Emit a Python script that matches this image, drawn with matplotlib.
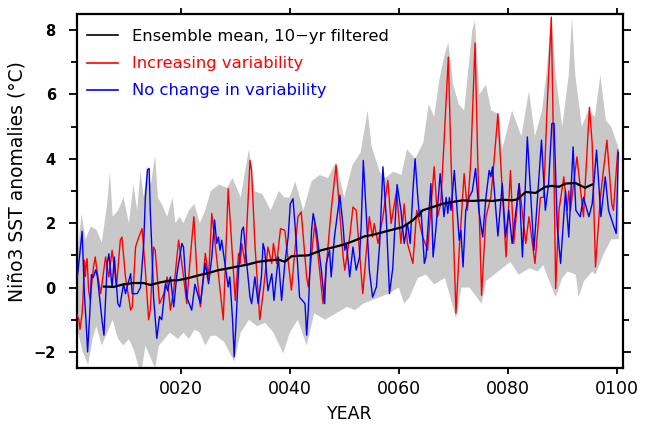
import matplotlib
matplotlib.use("Agg")
import matplotlib.pyplot as plt
from matplotlib.ticker import MultipleLocator, FixedLocator
import numpy as np

# Nino3 SST anomalies (turning points)
red_year = [1.0, 1.3, 1.5, 1.9, 2.1, 2.3, 2.5, 2.6, 2.8, 3.1, 3.4, 3.7, 4.0, 4.3, 4.7, 5.3,
            6.2, 6.8, 7.4, 8.2, 8.9, 9.2, 9.85, 10.8, 11.1, 11.7, 12.3, 12.9, 13.5, 14.1,
            14.4, 15.0, 15.3, 16.1, 16.9, 17.5, 18.1, 18.7, 19.6, 20.2, 21.1, 21.7, 22.4,
            23.0, 23.6, 24.5, 25.1, 25.7, 26.3, 27.8, 28.7, 30.0, 30.6, 30.9, 31.2, 31.8,
            32.7, 33.0, 33.6, 34.5, 35.1, 36.0, 36.7, 37.0, 37.6, 38.3, 39.1, 40.3, 41.5,
            42.1, 43.1, 43.4, 44.6, 46.1, 47.6, 48.5, 49.8, 50.1, 51.0, 51.6, 52.2, 53.4,
            54.6, 55.2, 55.5, 56.2, 57.1, 58.0, 58.6, 59.6, 60.4, 61.0, 61.6, 62.6, 63.3,
            64.4, 65.3, 66.5, 67.1, 67.7, 68.3, 69.1, 69.6, 70.5, 71.1, 72.0, 72.6, 73.2,
            74.0, 74.5, 75.2, 76.0, 76.9, 77.5, 78.2, 79.7, 80.5, 81.1, 82.1, 83.3, 83.9,
            85.0, 86.0, 86.6, 87.2, 88.0, 88.5, 88.8, 89.4, 90.3, 90.9, 91.2, 91.5, 92.7,
            93.9, 95.0, 95.5, 96.1, 97.0, 98.2, 99.1, 99.4, 100.2]
red_val = [-0.85, -1.0, -1.3, -0.8, -0.2, 0.85, 0.35, 0.65, 0.9, -0.1, -0.4, 0.2, 0.65, 0.95,
           0.43, -0.19, 0.95, 0.33, 1.16, 0.02, 1.47, 1.57, 0.33, -0.7, -0.6, 1.26, 1.57,
           1.83, 0.54, -1.0, -0.7, 1.26, 1.16, -0.5, -0.19, 0.33, -0.7, -0.08, 1.47, 0.75,
           -0.5, 0.85, 2.2, 0.33, -0.6, 1.06, 0.33, 2.3, 1.37, -1.0, 3.07, -0.4, 1.06, 0.75,
           1.37, 0.75, 3.95, 3.64, 1.37, -1.0, -0.19, 1.26, 0.75, 1.37, 0.75, 1.83, 1.78,
           -0.08, 2.2, 2.35, 0.33, 0.02, 1.99, -0.5, 2.4, 3.8, 0.95, 0.54, 1.57, 2.5, 2.4,
           -0.19, 2.2, 1.57, 1.99, 1.37, 2.2, 3.33, 1.99, 3.0, 1.37, 2.6, 1.37, 0.75, 2.4,
           1.57, 1.16, 3.75, 2.2, 2.6, 4.47, 7.16, 3.95, -0.8, 1.16, 3.54, 2.4, 3.85, 7.6,
           3.95, -0.24, 2.2, 2.8, 3.95, 5.4, 0.95, 3.64, 1.37, 3.23, 1.37, 2.2, 0.75, 2.8,
           2.8, 5.5, 8.4, 3.44, -0.03, 2.4, 3.44, 2.4, 3.0, 2.4, 4.06, 2.2, 5.6, 4.47, 0.64,
           2.8, 4.58, 2.6, 2.4, 4.27]

blue_year = [1.0, 1.9, 2.3, 2.6, 2.9, 3.3, 3.6, 3.9, 4.4, 4.7, 5.6, 5.9, 6.5, 6.8, 7.4, 7.8,
             8.45, 8.8, 9.5, 9.85, 10.8, 11.1, 12.0, 12.6, 13.2, 13.5, 13.9, 14.2, 14.4, 14.7,
             15.0, 15.6, 16.1, 16.5, 17.2, 17.6, 18.1, 18.7, 19.3, 20.2, 20.5, 21.1, 22.0,
             22.6, 23.6, 24.5, 25.1, 25.7, 26.2, 26.6, 26.9, 27.2, 27.5, 28.1, 28.7, 29.0,
             29.5, 29.8, 30.1, 30.6, 31.2, 31.5, 32.1, 32.7, 33.0, 33.6, 34.2, 34.8, 35.1,
             35.4, 36.0, 36.7, 37.1, 37.9, 38.5, 39.1, 39.7, 40.1, 40.6, 41.2, 41.8, 42.8,
             43.1, 43.4, 44.0, 44.3, 44.9, 45.8, 46.4, 46.7, 47.3, 47.6, 48.2, 49.2, 49.8,
             50.1, 50.4, 51.0, 51.6, 52.2, 52.8, 53.1, 53.5, 54.0, 54.6, 55.2, 55.9, 56.5,
             57.1, 57.7, 58.3, 58.9, 59.7, 60.4, 61.0, 61.6, 62.1, 62.6, 63.0, 63.5, 63.8,
             64.1, 64.7, 65.0, 65.9, 66.3, 66.8, 67.6, 68.3, 68.7, 69.0, 69.3, 69.6, 70.2,
             70.8, 71.1, 71.4, 71.8, 72.3, 72.9, 73.5, 74.1, 74.7, 75.4, 76.0, 76.6, 76.9,
             77.2, 78.2, 79.0, 79.6, 80.2, 80.8, 82.1, 82.7, 83.6, 84.8, 86.2, 86.9, 87.5,
             88.1, 88.5, 89.1, 89.7, 90.6, 91.2, 92.0, 92.5, 93.3, 93.9, 94.9, 95.5, 96.3,
             97.1, 97.9, 98.5, 99.9, 100.3]
blue_val = [0.3, 1.75, -0.2, -1.0, -2.0, -0.8, 0.4, 0.3, 0.55, 0.33, -1.1, -1.48, 0.75, 1.05,
            0.0, 0.95, -0.5, -0.6, 0.12, -0.19, 0.43, -0.19, -0.19, 0.0, 1.37, 2.8, 3.66, 3.7,
            2.4, 1.16, -0.3, -1.58, -0.9, -1.0, 0.12, -0.1, 0.33, -0.6, 0.43, 1.37, 1.26,
            -0.3, -0.7, 0.1, -0.5, 0.75, 0.12, 0.95, 2.1, 1.37, 1.57, 1.16, 1.47, 0.75, 0.02,
            0.33, -1.0, -2.15, -1.22, 0.54, 1.78, 1.88, 0.75, -0.3, -0.5, 0.33, -0.5, 0.33,
            1.37, 1.16, -0.1, 0.43, -0.4, 0.95, -0.4, 0.75, 1.57, 2.6, 2.76, 1.4, -0.3, -0.5,
            -1.48, -0.7, 1.78, 2.3, 1.78, 0.54, -0.5, 0.75, 1.16, 0.33, 1.57, 2.87, 1.88,
            1.16, 1.37, 0.33, 1.26, 0.54, 0.95, 1.88, 3.95, 2.4, 0.54, -0.3, 0.02, 1.37,
            3.75, 2.2, -0.19, 0.6, 3.2, 2.4, 1.37, 1.99, 1.37, 3.0, 4.0, 2.8, 2.2, 2.4, 0.75,
            0.95, 3.23, 0.95, 1.78, 3.54, 2.2, 2.8, 2.3, 2.8, 2.4, 3.64, 2.2, 1.47, 1.78,
            0.64, 2.4, 2.8, 3.0, 3.7, 2.4, 1.57, 2.8, 3.64, 3.44, 3.75, 1.6, 3.23, 1.57, 2.4,
            1.37, 3.23, 0.95, 4.68, 1.16, 4.58, 2.4, 3.23, 5.1, 5.1, 1.88, 0.75, 3.0, 1.57,
            4.37, 2.4, 2.2, 2.8, 2.2, 2.6, 4.27, 2.2, 3.44, 2.4, 1.68, 4.2]

# ensemble mean, 10-yr filtered
mean_year = [5.9, 7.7, 9.5, 11.4, 13.2, 14.4, 16.2, 18.1, 19.6, 21.5, 23.3, 25.0, 26.9, 28.8,
             30.6, 32.4, 34.2, 36.0, 37.9, 39.1, 40.3, 41.8, 43.4, 45.8, 48.2, 49.8, 51.3,
             52.5, 53.7, 55.0, 56.2, 57.5, 58.9, 60.7, 62.6, 64.4, 66.2, 68.0, 69.9, 71.7,
             73.5, 75.4, 77.2, 79.0, 80.8, 81.75, 83.3, 85.1, 86.9, 88.1, 89.4, 90.6, 92.4,
             93.6, 94.2, 95.2, 95.5]
mean_val = [0.03, 0.02, 0.1, 0.14, 0.14, 0.08, 0.16, 0.22, 0.23, 0.3, 0.38, 0.45, 0.54, 0.6,
            0.66, 0.72, 0.8, 0.84, 0.87, 0.8, 0.97, 0.99, 1.0, 1.16, 1.26, 1.33, 1.42, 1.5,
            1.59, 1.63, 1.68, 1.74, 1.8, 1.88, 2.09, 2.4, 2.5, 2.6, 2.66, 2.71, 2.69, 2.71,
            2.69, 2.73, 2.71, 2.74, 2.97, 2.94, 3.13, 3.16, 3.13, 3.23, 3.25, 3.15, 3.1,
            3.18, 3.2]

# ensemble spread (grey band), upper and lower edges
upper_year = [1.0, 1.8, 2.5, 3.5, 4.5, 5.5, 6.5, 7.0, 7.5, 8.5, 9.5, 10.5, 11.3, 12.0, 12.6,
              13.2, 13.8, 14.5, 15.3, 15.8, 16.5, 17.5, 18.5, 19.0, 19.8, 20.5, 21.5, 22.5,
              23.5, 24.5, 25.5, 27.0, 28.5, 29.5, 31.0, 32.5, 33.5, 35.0, 36.5, 38.0, 39.0,
              40.0, 41.0, 42.5, 44.0, 45.5, 47.0, 48.5, 50.0, 51.5, 53.0, 54.3, 55.0, 56.5,
              57.5, 59.0, 60.5, 61.5, 63.0, 64.5, 65.5, 66.5, 67.5, 68.5, 69.1, 70.0, 71.0,
              72.0, 73.5, 74.0, 74.8, 76.0, 77.0, 78.3, 79.0, 80.8, 82.5, 83.9, 85.0, 86.3,
              87.2, 88.0, 88.8, 90.0, 91.2, 91.8, 92.4, 93.6, 94.8, 96.0, 97.0, 98.0, 99.0,
              100.0, 100.4]
upper_val = [1.0, 2.3, 1.5, 1.9, 1.8, 1.4, 2.6, 3.6, 2.2, 2.4, 2.8, 2.0, 3.2, 2.4, 3.6, 2.8,
             3.8, 3.2, 4.1, 2.8, 2.6, 2.2, 2.8, 2.0, 2.2, 2.0, 2.4, 2.6, 2.0, 2.4, 3.0, 3.2,
             3.1, 3.4, 2.8, 4.3, 3.0, 2.9, 2.4, 3.0, 2.8, 2.8, 3.3, 2.4, 3.3, 3.5, 3.4, 3.9,
             2.8, 3.8, 4.2, 5.5, 4.4, 3.6, 3.4, 3.6, 3.5, 4.3, 4.0, 4.5, 5.7, 5.3, 6.5, 7.3,
             7.6, 6.3, 5.7, 5.5, 8.0, 8.3, 6.0, 6.3, 5.5, 5.4, 4.3, 5.5, 4.7, 6.1, 4.7, 5.5,
             6.8, 8.5, 6.6, 5.0, 6.6, 8.4, 6.6, 5.0, 5.5, 5.3, 6.6, 5.2, 5.0, 4.5, 4.3]
lower_year = [1.0, 2.0, 3.0, 3.8, 4.5, 5.5, 6.5, 7.5, 8.5, 9.5, 10.5, 11.5, 12.3, 12.9, 13.5,
              14.5, 15.3, 16.0, 17.0, 18.0, 19.5, 20.5, 21.5, 22.5, 23.5, 24.5, 25.5, 26.5,
              28.0, 29.8, 31.0, 32.5, 34.0, 35.5, 37.0, 38.8, 40.0, 41.5, 43.1, 44.5, 46.5,
              48.5, 50.5, 52.0, 53.5, 55.0, 56.5, 58.0, 60.0, 61.0, 62.0, 63.5, 65.0, 66.5,
              68.5, 70.5, 71.5, 73.0, 75.2, 76.0, 77.5, 79.0, 80.5, 82.0, 84.0, 85.5, 86.5,
              88.8, 90.0, 91.0, 92.5, 93.0, 94.0, 95.5, 96.1, 97.5, 99.0, 100.4]
lower_val = [-1.3, -2.0, -2.4, -1.6, -1.2, -1.8, -1.4, -1.0, -1.6, -1.8, -1.6, -2.0, -2.5,
             -2.5, -1.8, -2.2, -2.5, -1.8, -1.6, -1.4, -1.6, -1.4, -1.6, -1.3, -1.4, -1.8,
             -1.5, -1.5, -1.7, -2.3, -1.4, -1.0, -1.2, -1.1, -1.4, -2.05, -1.4, -1.0, -1.8,
             -0.8, -1.0, -0.8, -0.6, -0.7, -0.5, -0.4, -0.3, -0.2, 0.0, -0.5, -0.3, 0.3, 0.4,
             0.1, 0.3, -0.95, 0.0, 0.0, -0.5, 0.2, 0.4, 0.6, 0.8, 0.4, 0.6, 0.5, 0.7, -0.3,
             0.3, 0.5, 0.4, -0.3, 0.2, 0.5, 0.4, 1.0, 1.5, 1.5]

xticks = [20, 40, 60, 80, 100]
xticklabels = ["0020", "0040", "0060", "0080", "0100"]

plt.rcParams["font.family"] = "DejaVu Sans"
fig = plt.figure(figsize=(6.46, 4.25), dpi=100)
# axes box: x 76.7..622.7 px, y 14..368 px
ax = fig.add_axes([76.7 / 646, 1 - 368 / 425, 546 / 646, 354 / 425])

# grey spread band
band_x = np.concatenate([upper_year, lower_year[::-1]])
band_y = np.concatenate([upper_val, lower_val[::-1]])
ax.fill(band_x, band_y, color="#c8c8c8", lw=0, zorder=1)

ax.plot(red_year, red_val, color="#ff0000", lw=1.0, zorder=3, label="Increasing variability")
ax.plot(blue_year, blue_val, color="#0000ff", lw=1.0, zorder=4, label="No change in variability")
ax.plot(mean_year, mean_val, color="black", lw=1.6, zorder=5, label="Ensemble mean, 10\u2212yr filtered")

ax.set_xlim(0.9, 101.1)
ax.set_ylim(-2.5, 8.5)
ax.xaxis.set_major_locator(FixedLocator(xticks))
ax.set_xticklabels(xticklabels)
ax.yaxis.set_major_locator(MultipleLocator(2))
ax.yaxis.set_minor_locator(MultipleLocator(1))
ax.tick_params(axis="both", which="both", direction="out", top=True, right=True, width=1.3)
ax.tick_params(axis="x", which="major", length=4, labelsize=12.5, pad=5)
ax.tick_params(axis="y", which="major", length=6, labelsize=10.5, pad=9)
ax.tick_params(axis="y", which="minor", length=4)
for lab in ax.get_yticklabels():
    lab.set_fontweight("bold")
for sp in ax.spines.values():
    sp.set_linewidth(1.6)

ax.set_xlabel("YEAR", fontsize=12.5, labelpad=5)
ax.set_ylabel("Niño3 SST anomalies (°C)", fontsize=13.5)
ax.yaxis.set_label_coords(-0.092, 0.528)

# legend order: black, red, blue
handles, labels = ax.get_legend_handles_labels()
order = [2, 0, 1]
leg = ax.legend([handles[i] for i in order], [labels[i] for i in order],
                loc="upper left", bbox_to_anchor=(0.0, 0.985), frameon=False,
                fontsize=11.8, handlelength=1.9, handletextpad=0.9, labelspacing=0.74,
                labelcolor="linecolor", borderaxespad=0.2)
for line in leg.get_lines():
    line.set_linewidth(1.2)

plt.savefig("out.png", dpi=100)
plt.close()
